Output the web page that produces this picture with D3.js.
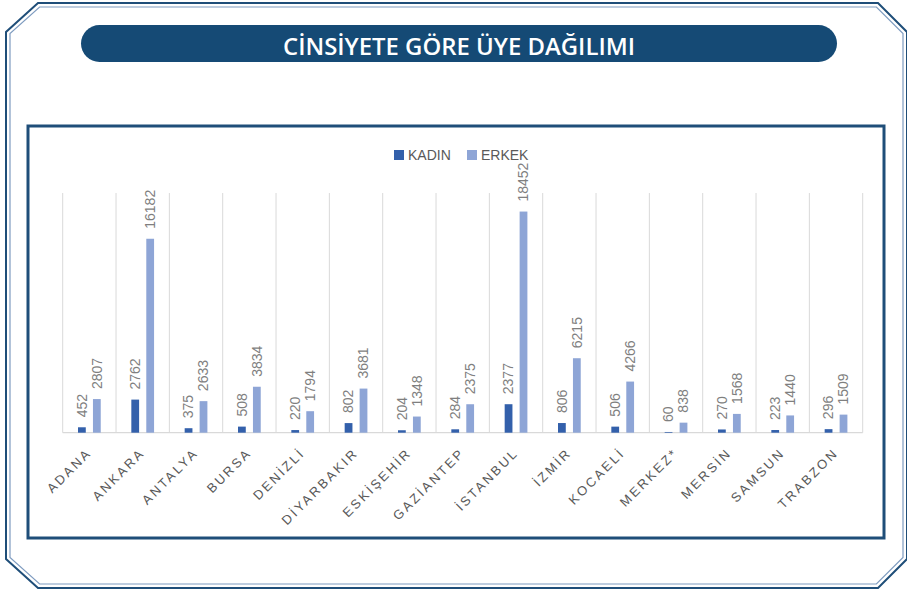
<!DOCTYPE html>
<html>
<head>
<meta charset="utf-8">
<script src="https://cdn.jsdelivr.net/npm/d3@7"></script>
<style>
html,body{margin:0;padding:0;background:#fff;}
svg{display:block;}
</style>
</head>
<body>
<svg id="chart" width="907" height="591"></svg>
<script>
const title = "CİNSİYETE GÖRE ÜYE DAĞILIMI";
const categories = ["ADANA","ANKARA","ANTALYA","BURSA","DENİZLİ","DİYARBAKIR","ESKİŞEHİR","GAZİANTEP","İSTANBUL","İZMİR","KOCAELİ","MERKEZ*","MERSİN","SAMSUN","TRABZON"];
const seriesNames = ["KADIN","ERKEK"];
const kadin = [452,2762,375,508,220,802,204,284,2377,806,506,60,270,223,296];
const erkek = [2807,16182,2633,3834,1794,3681,1348,2375,18452,6215,4266,838,1568,1440,1509];
const colors = ["#3360ab","#8ea5d6"];

const svg = d3.select("#chart");

// Outer octagonal double frame
function octagon(i){
  return [[38+i*0.4, 3+i],[878-i*0.4, 3+i],[907-i, 32+i*0.4],[907-i, 559-i*0.4],[878-i*0.4,588-i],[38+i*0.4,588-i],[6+i,559-i*0.4],[6+i,32+i*0.4]];
}
const line = d3.line().curve(d3.curveLinearClosed);
svg.append("path").attr("d", line(octagon(0))).attr("fill","none").attr("stroke","#1f4e79").attr("stroke-width",2);
svg.append("path").attr("d", line(octagon(4))).attr("fill","none").attr("stroke","#7f9cc0").attr("stroke-width",1.2);

// Title pill
svg.append("rect").attr("x",81).attr("y",25).attr("width",756).attr("height",37).attr("rx",18.5).attr("ry",18.5).attr("fill","#154a75");
svg.append("text").attr("x",459).attr("y",54.5).attr("text-anchor","middle")
  .attr("font-family","'Open Sans', sans-serif").attr("font-weight",600).attr("font-size",24)
  .attr("fill","#fff").attr("textLength",352).attr("lengthAdjust","spacingAndGlyphs").text(title);

// Inner chart box
svg.append("rect").attr("x",28).attr("y",126).attr("width",856).attr("height",412).attr("fill","#fff").attr("stroke","#1f4e79").attr("stroke-width",3);

// Plot
const x0 = 62.7, x1 = 862.7, yBase = 432.7, yTop = 193;
const x = d3.scaleBand().domain(categories).range([x0, x1]).paddingInner(0).paddingOuter(0);
const y = d3.scaleLinear().domain([0, 20000]).range([yBase, yTop]);
const xs = d3.scaleBand().domain(seriesNames).range([15.3, x.bandwidth()-15.3]).paddingInner(0.48).paddingOuter(0);

// vertical gridlines at category boundaries
const bounds = categories.map(c => x(c)).concat([x1]);
svg.append("g").selectAll("line").data(bounds).join("line")
  .attr("x1", d=>d).attr("x2", d=>d).attr("y1", yTop).attr("y2", yBase)
  .attr("stroke","#d9d9d9").attr("stroke-width",1);
// baseline
svg.append("line").attr("x1",x0).attr("x2",x1).attr("y1",yBase).attr("y2",yBase).attr("stroke","#d9d9d9").attr("stroke-width",1.3);

const data = categories.map((c,i)=>({cat:c, vals:[{s:"KADIN",v:kadin[i]},{s:"ERKEK",v:erkek[i]}]}));
const g = svg.append("g").selectAll("g").data(data).join("g").attr("transform", d=>`translate(${x(d.cat)},0)`);
g.selectAll("rect").data(d=>d.vals).join("rect")
  .attr("x", d=>xs(d.s)).attr("width", xs.bandwidth())
  .attr("y", d=>y(d.v)).attr("height", d=>yBase - y(d.v))
  .attr("fill", (d,i)=>colors[i]);
g.selectAll("text").data(d=>d.vals).join("text")
  .attr("transform", d=>`translate(${xs(d.s)+xs.bandwidth()/2},${y(d.v)-10}) rotate(-90)`)
  .attr("dy","0.35em").attr("text-anchor","start")
  .attr("font-family","'Liberation Sans', Arial, sans-serif").attr("font-size",14)
  .attr("fill","#7f7f7f").text(d=>d.v);

// Category labels
svg.append("g").selectAll("text").data(categories).join("text")
  .attr("transform", d=>`translate(${x(d)+x.bandwidth()/2+3},${yBase+21}) rotate(-45)`)
  .attr("text-anchor","end").attr("font-family","'Liberation Sans', Arial, sans-serif")
  .attr("font-size",13).attr("letter-spacing","2.4px").attr("fill","#595959").text(d=>d);

// Legend
const lg = svg.append("g").selectAll("g").data(seriesNames).join("g")
  .attr("transform",(d,i)=>`translate(${[394,467][i]},150)`);
lg.append("rect").attr("width",10).attr("height",10).attr("fill",(d,i)=>colors[i]);
lg.append("text").attr("x",14).attr("y",10).attr("font-family","'Liberation Sans', Arial, sans-serif")
  .attr("font-size",14).attr("fill","#595959").text(d=>d);
</script>
</body>
</html>
